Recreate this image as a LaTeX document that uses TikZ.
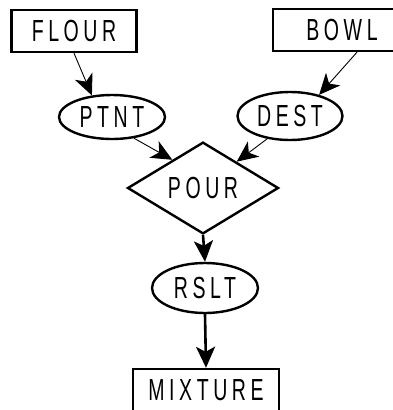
\documentclass[tikz,border=0pt]{standalone}
\usepackage{fontspec}
\usetikzlibrary{shapes.geometric,arrows.meta,calc}
\newfontfamily\labfont[FakeStretch=0.64,LetterSpace=15]{Liberation Sans}
\begin{document}
\begin{tikzpicture}[x=1pt,y=-1pt,
  lab/.style={font=\labfont\fontsize{30.5}{34}\selectfont, inner sep=0pt, line width=2.4pt, draw=black},
  boxnode/.style={lab, rectangle},
  ovalnode/.style={lab, ellipse},
  decnode/.style={lab, diamond},
  thinlink/.style={line width=0.9pt, -{Stealth[length=21pt,width=19pt,inset=6pt]}},
  thicklink/.style={line width=2.6pt, -{Stealth[length=21pt,width=19pt,inset=5pt]}}]
\useasboundingbox (0,0) rectangle (393,410);
\clip (0,0) rectangle (393,410);

% source and target boxes
\node[boxnode, minimum width=125pt, minimum height=42pt] (flour) at (74,31) {FLOUR};
\node[boxnode, minimum width=138pt, minimum height=42pt] (bowl) at (342,30) {BOWL};
\node[boxnode, minimum width=146pt, minimum height=42pt] (mix) at (206,390) {MIXTURE};

% case roles
\node[ovalnode, minimum width=106pt, minimum height=44pt] (ptnt) at (112,117) {PTNT};
\node[ovalnode, minimum width=105pt, minimum height=48pt] (dest) at (290,116) {DEST};
\node[ovalnode, minimum width=106pt, minimum height=50pt] (rslt) at (205,288) {RSLT};

% the action
\node[decnode, minimum width=151pt, minimum height=67pt] (pour) at (203,188) {POUR};

% connectors
\draw[thinlink] (flour.south) -- (ptnt.133);
\draw[thinlink] (ptnt.-44) -- ($(pour.west)!0.6!(pour.north)$);
\draw[thinlink] ([xshift=15pt]bowl.south) -- (dest.36);
\draw[thinlink] (dest.225) -- ($(pour.north)!0.44!(pour.east)$);
\draw[thicklink] (pour.south) -- (rslt.north);
\draw[thicklink] (rslt.south) -- (mix.north);
\end{tikzpicture}
\end{document}
